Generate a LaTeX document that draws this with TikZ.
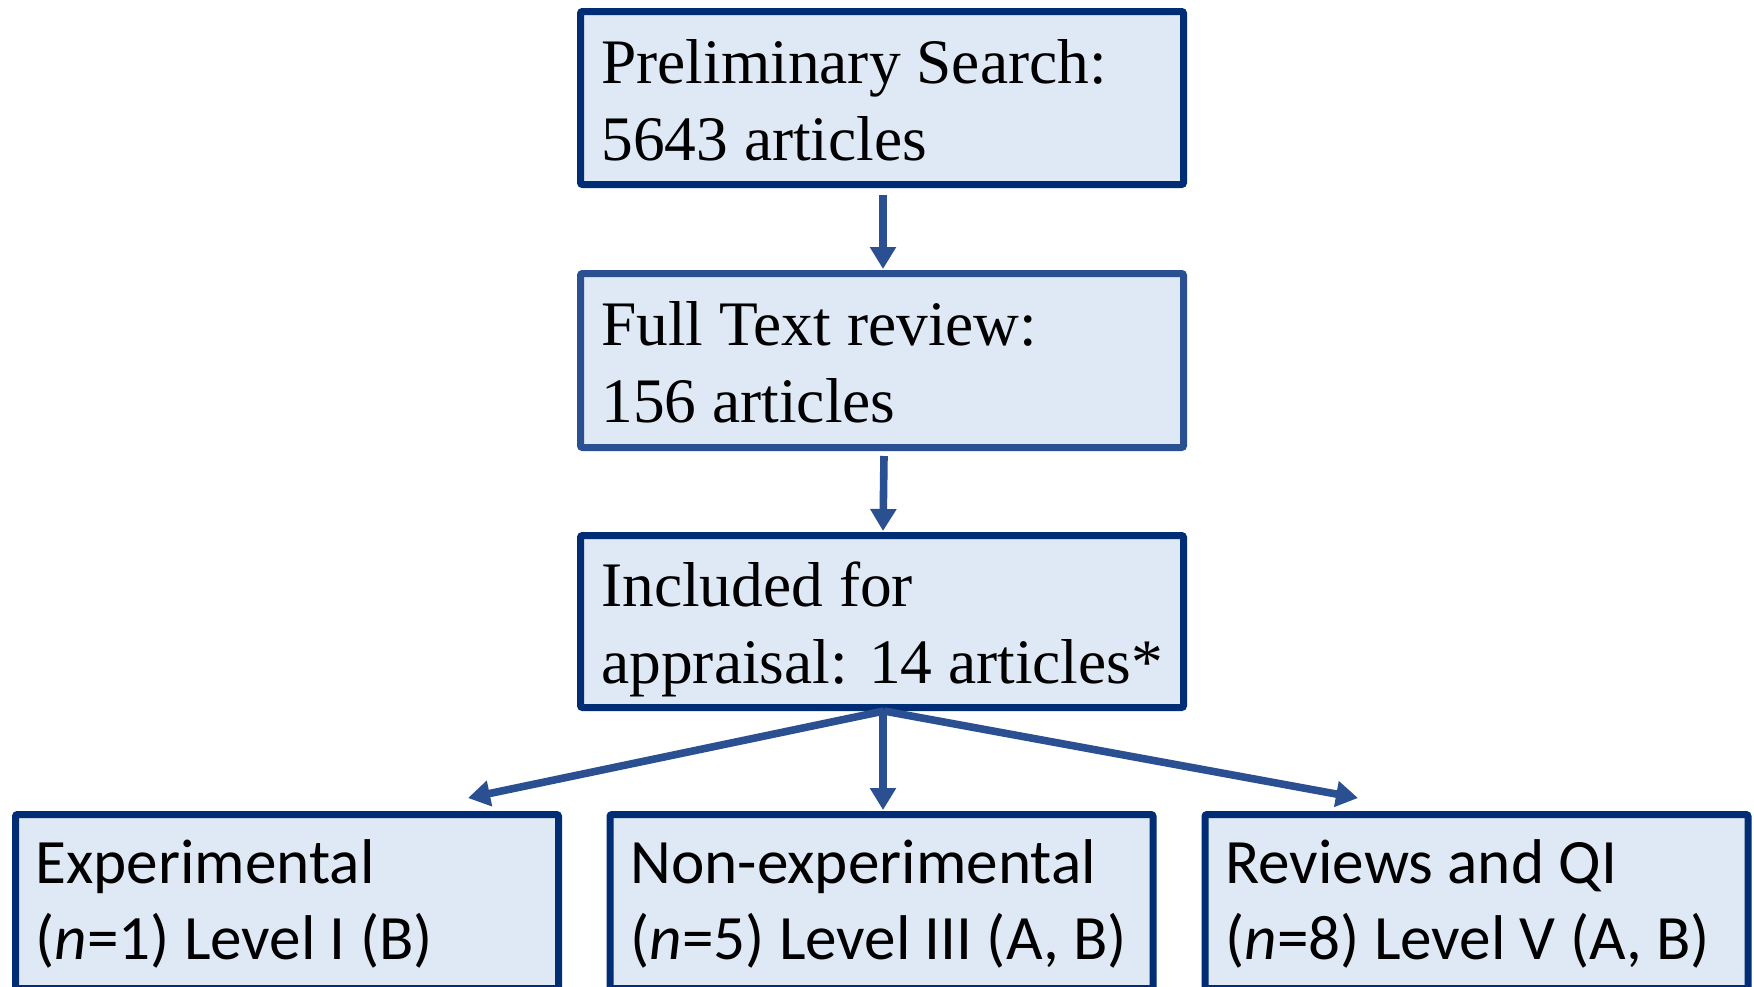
\documentclass[tikz,border=0pt]{standalone}
\usepackage{fontspec}
\setmainfont{Liberation Serif}
\newfontfamily\calib{Carlito}
\usetikzlibrary{arrows.meta,calc}
\definecolor{navy}{RGB}{0,45,115}
\definecolor{midblue}{RGB}{43,80,145}
\definecolor{boxfill}{RGB}{222,233,245}
\begin{document}
\begin{tikzpicture}[x=0.5pt,y=-0.5pt,
  flowbox/.style={draw=navy,fill=boxfill,line width=3.5pt,rounded corners=1pt,
    rectangle,inner sep=0pt,minimum width=301.5pt,minimum height=86.5pt},
  lowbox/.style={flowbox,minimum width=271.5pt,minimum height=87pt},
  sertext/.style={anchor=base west,inner sep=0pt,font=\fontsize{31.7}{38}\selectfont},
  sanstext/.style={anchor=base west,inner sep=0pt,font=\calib\fontsize{31.6}{38}\selectfont},
  arr/.style={draw=midblue,line width=3.8pt,-{Triangle[width=12.5pt,length=11pt]}}]
\useasboundingbox (0,0) rectangle (1754,986);
% boxes
\node[flowbox] (b1) at (882,98) {};
\node[flowbox,draw=midblue,minimum height=87pt] (b2) at (882,360.5) {};
\node[flowbox,minimum height=86pt] (b3) at (882,621.5) {};
\node[lowbox] (bA) at (287,901.5) {};
\node[lowbox] (bB) at (881.5,901.5) {};
\node[lowbox] (bC) at (1476.5,901.5) {};
% texts
\node[sertext] (t1a) at (601,83) {Preliminary Search:};
\node[sertext] (t1b) at (601,160) {5643 articles};
\node[sertext] (t2a) at (601,345) {Full Text review:};
\node[sertext] (t2b) at (601,422) {156 articles};
\node[sertext] (t3a) at (601,606) {Included for};
\node[sertext] (t3b) at (601,683) {appraisal: 14 articles*};
\node[sanstext] (tAa) at (35,883) {Experimental};
\node[sanstext] (tAb) at (35,959) {(\textit{n}=1) Level I (B)};
\node[sanstext] (tBa) at (630,883) {Non-experimental};
\node[sanstext] (tBb) at (630,959) {(\textit{n}=5) Level III (A, B)};
\node[sanstext] (tCa) at (1225,883) {Reviews and QI};
\node[sanstext] (tCb) at (1225,959) {(\textit{n}=8) Level V (A, B)};
% connectors
\coordinate (la) at (468,798);
\coordinate (ra) at (1358,798);
\draw[arr] ($(b1.south)+(1,7)$) -- ($(b2.north)+(1,-1)$);
\draw[arr] ($(b2.south)+(2,5)$) -- ($(b3.north)+(1,-1)$);
\draw[arr] ($(b3.south)+(2,0)$) -- (la);
\draw[arr] ($(b3.south)+(1,0)$) -- ($(b3.south |- bB.north)+(1,-1)$);
\draw[arr] ($(b3.south)+(2,0)$) -- (ra);
\end{tikzpicture}
\end{document}
